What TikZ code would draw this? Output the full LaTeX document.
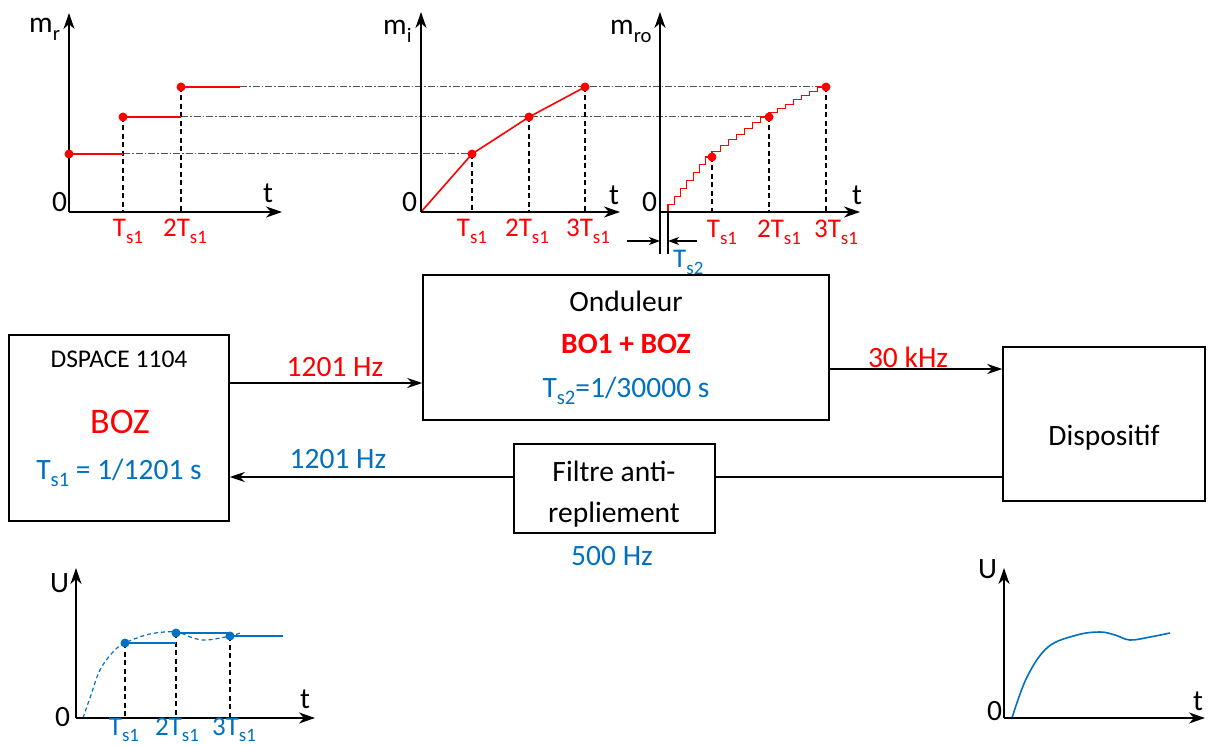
\documentclass[tikz,border=0pt]{standalone}
\usepackage{fontspec}
\setmainfont{Carlito}
\usetikzlibrary{arrows.meta}
\definecolor{myred}{HTML}{FF0000}
\definecolor{myblue}{HTML}{0070C0}
\definecolor{ddgray}{HTML}{555555}
\newcommand{\sbs}[1]{\raisebox{-0.25em}{\scalebox{0.7}{#1}}}
\newcommand{\fs}[1]{\fontsize{#1}{#1}\selectfont}
\begin{document}
\begin{tikzpicture}[x=1pt,y=-1pt,
 txt/.style={inner sep=0pt, anchor=base, font=\fs{29.5}},
 tick/.style={inner sep=0pt, anchor=base, font=\fs{27}},
 box/.style={draw, line width=1.5pt, inner sep=0pt},
 arr/.style={line width=1.8pt, -{Stealth[length=15pt,width=10pt,inset=5pt]}},
 conn/.style={line width=1.8pt},
 axis/.style={line width=2.2pt, -{Stealth[length=16pt,width=11pt,inset=5pt]}},
 vdash/.style={line width=1.4pt, dash pattern=on 5pt off 3.5pt},
 ddot/.style={line width=1pt, ddgray, dash pattern=on 7pt off 2pt on 1.5pt off 2pt},
 rline/.style={line width=1.6pt, myred},
 bline/.style={line width=1.6pt, myblue},
 rdot/.style={circle, fill=myred, inner sep=0pt, minimum size=9pt},
 bdot/.style={circle, fill=myblue, inner sep=0pt, minimum size=9pt},
 ]
\useasboundingbox (0,0) rectangle (1208,746);
\clip (0,0) rectangle (1208,746);

% ---------- blocks ----------
\node[box, minimum width=220, minimum height=186] (dspace) at (119,428) {};
\node[box, minimum width=406, minimum height=145] (ond) at (626,347.5) {};
\node[box, minimum width=202, minimum height=154] (disp) at (1104,424) {};
\node[box, minimum width=201, minimum height=89] (filt) at (614.5,488.5) {};

\node[txt, font=\fs{25.5}] (t1) at (119,367) {DSPACE 1104};
\node[txt, font=\fs{36}, text=myred] (t2) at (120,433) {BOZ};
\node[txt, text=myblue] (t3) at (119,479) {T\sbs{s1} = 1/1201 s};
\node[txt] (t4) at (626,312) {Onduleur};
\node[txt, text=myred, font=\fs{29.5}\bfseries] (t5) at (626,353) {BO1 + BOZ};
\node[txt, text=myblue] (t6) at (626,397) {T\sbs{s2}=1/30000 s};
\node[txt] (t7) at (1104,445) {Dispositif};
\node[txt] (t8) at (614,481) {Filtre anti-};
\node[txt] (t9) at (614,522) {repliement};
\node[txt, text=myblue] (t10) at (612,565) {500 Hz};

\coordinate (a1) at (0,383);
\coordinate (a2) at (0,369);
\coordinate (a3) at (0,477);
\draw[arr] (dspace.east |- a1) -- (ond.west |- a1);
\draw[arr] (ond.east |- a2) -- (disp.west |- a2);
\draw[conn] (disp.west |- a3) -- (filt.east |- a3);
\draw[arr] (filt.west |- a3) -- (dspace.east |- a3);
\node[txt, text=myred] (l1) at (335,376) {1201 Hz};
\node[txt, text=myred] (l2) at (908,367) {30 kHz};
\node[txt, text=myblue] (l3) at (338,468) {1201 Hz};

% ---------- graph m_r ----------
\draw[ddot] (123,154) -- (472,154);
\draw[ddot] (181,117) -- (769,117);
\draw[ddot] (240,87) -- (826,87);
\draw[vdash] (123,117) -- (123,212);
\draw[vdash] (181,87) -- (181,212);
\draw[rline] (69,154) -- (123,154);
\draw[rline] (123,117) -- (181,117);
\draw[rline] (181,87) -- (240,87);
\draw[axis] (69,212) -- (69,13);
\draw[axis] (69,212) -- (282,212);
\node[rdot] at (69,154) {};
\node[rdot] at (123,117) {};
\node[rdot] at (181,87) {};
\node[txt, anchor=base west] at (29,33) {m\sbs{r}};
\node[txt, anchor=base west] at (52,212) {0};
\node[txt, anchor=base west] at (263,203) {t};
\node[tick, text=myred] at (128,237) {T\sbs{s1}};
\node[tick, text=myred] at (185,237) {2T\sbs{s1}};

% ---------- graph m_i ----------
\draw[vdash] (472,154) -- (472,212);
\draw[vdash] (529,117) -- (529,212);
\draw[vdash] (585,87) -- (585,212);
\draw[rline] (421,212) -- (472,154) -- (529,117) -- (585,87);
\draw[axis] (421,212) -- (421,12);
\draw[axis] (421,212) -- (620,212);
\node[rdot] at (472,154) {};
\node[rdot] at (529,117) {};
\node[rdot] at (585,87) {};
\node[txt, anchor=base west] at (383,35) {m\sbs{i}};
\node[txt, anchor=base west] at (402,212) {0};
\node[txt, anchor=base west] at (609,205) {t};
\node[tick, text=myred] at (472,237) {T\sbs{s1}};
\node[tick, text=myred] at (527,237) {2T\sbs{s1}};
\node[tick, text=myred] at (588,237) {3T\sbs{s1}};

% ---------- graph m_ro ----------
\draw[vdash] (712,157) -- (712,212);
\draw[vdash] (769,117) -- (769,212);
\draw[vdash] (826,87) -- (826,212);
\draw[myred, line width=1.2pt] (668,212)
  \foreach \i in {1,...,7}{ -- ++(0,-7.857) -- ++(6.286,0)}
  \foreach \i in {1,...,7}{ -- ++(0,-5.714) -- ++(8.143,0)}
  \foreach \i in {1,...,7}{ -- ++(0,-4.286) -- ++(8.143,0)};
\draw[line width=1.2pt] (660,212) -- (660,254);
\draw[line width=1.2pt] (668,212) -- (668,254);
\draw[axis] (660,212) -- (660,12);
\draw[axis] (660,212) -- (860,212);
\draw[line width=1.2pt, -{Stealth[length=11pt,width=8pt,inset=3pt]}] (627,241) -- (660,241);
\draw[line width=1.2pt, -{Stealth[length=11pt,width=8pt,inset=3pt]}] (697,241) -- (668,241);
\node[rdot] at (712,157) {};
\node[rdot] at (769,117) {};
\node[rdot] at (826,87) {};
\node[txt, anchor=base west] at (610,35) {m\sbs{ro}};
\node[txt, anchor=base west] at (642,212) {0};
\node[txt, anchor=base west] at (852,205) {t};
\node[tick, text=myred] at (722,238) {T\sbs{s1}};
\node[tick, text=myred] at (779,238) {2T\sbs{s1}};
\node[tick, text=myred] at (836,238) {3T\sbs{s1}};
\node[tick, text=myblue, anchor=base west] at (673,268) {T\sbs{s2}};

% ---------- bottom-left U ----------
\draw[vdash] (125,643) -- (125,718);
\draw[vdash] (176,633) -- (176,718);
\draw[vdash] (230,636) -- (230,718);
\draw[myblue, line width=1.2pt, dash pattern=on 4pt off 3pt] plot[smooth, tension=0.6] coordinates
  {(83,718) (91,695) (100,670) (113,652) (125,643) (150,634) (176,632) (193,638) (207,640) (230,636) (240,633)};
\draw[bline] (125,643) -- (176,643);
\draw[bline] (176,633) -- (230,633);
\draw[bline] (230,636) -- (283,636);
\draw[axis] (76,718) -- (76,568);
\draw[axis] (76,718) -- (315,718);
\node[bdot] at (125,643) {};
\node[bdot] at (176,633) {};
\node[bdot] at (230,636) {};
\node[txt, anchor=base west] at (50,592) {U};
\node[txt, anchor=base west] at (55,726) {0};
\node[txt, anchor=base west] at (300,708) {t};
\node[tick, text=myblue] at (124,735) {T\sbs{s1}};
\node[tick, text=myblue] at (177,735) {2T\sbs{s1}};
\node[tick, text=myblue] at (234,735) {3T\sbs{s1}};

% ---------- bottom-right U ----------
\draw[bline] plot[smooth, tension=0.6] coordinates
  {(1012,718) (1027,677) (1048,647) (1077,635) (1100,632) (1115,635) (1130,640) (1150,637) (1170,633)};
\draw[axis] (1004,718) -- (1004,568);
\draw[axis] (1004,718) -- (1205,718);
\node[txt, anchor=base west] at (978,578) {U};
\node[txt, anchor=base west] at (987,720) {0};
\node[txt, anchor=base west] at (1193,710) {t};
\end{tikzpicture}
\end{document}
